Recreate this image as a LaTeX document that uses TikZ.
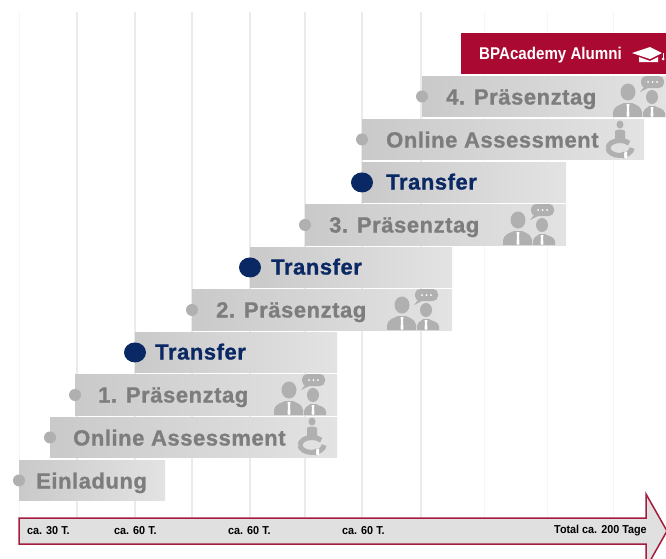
\documentclass[tikz,border=0pt]{standalone}
\usepackage{fontspec}
\usetikzlibrary{arrows.meta,shapes.geometric}
\setmainfont{Liberation Sans}
\newfontfamily\barfont[LetterSpace=2.5,BoldFeatures={FakeBold=1}]{Liberation Sans}
\newfontfamily\narrowfont[FakeStretch=.94]{Liberation Sans}
\newfontfamily\alumnifont[FakeStretch=.89]{Liberation Sans}

\definecolor{barleft}{gray}{.79}
\definecolor{barright}{gray}{.89}
\definecolor{iconcol}{gray}{.69}
\definecolor{labelcol}{gray}{.49}
\definecolor{navycol}{RGB}{10,40,100}
\definecolor{redcol}{RGB}{170,10,50}
\definecolor{gridcol}{gray}{.92}
\definecolor{faintcol}{gray}{.96}

\tikzset{
  barbox/.style={left color=barleft,right color=barright,draw=none,inner sep=0pt,
    anchor=north west,minimum height=40.5pt},
  graydot/.style={circle,fill=iconcol,inner sep=0pt,minimum size=12pt},
  navydot/.style={ellipse,fill=navycol,inner sep=0pt,minimum width=22pt,minimum height=20pt},
  daylabel/.style={anchor=west,inner sep=0pt,text=labelcol,text height=16pt,text depth=5pt,
    font=\barfont\bfseries\fontsize{22}{22}\selectfont},
  transferlabel/.style={daylabel,text=navycol},
  timelabel/.style={anchor=west,inner sep=0pt,text=black,
    font=\narrowfont\bfseries\fontsize{11.5}{12}\selectfont},
  talkicon/.pic={
    % large person
    \fill[iconcol] (-11,-25) ellipse[x radius=7.5,y radius=8.5];
    \fill[iconcol] (-26,0) -- (-26,-5) .. controls (-25,-11) and (-19,-12) .. (-15,-14)
      -- (-7,-14) .. controls (-3,-12) and (2,-11) .. (3,-5) -- (3,0) -- cycle;
    \fill[white] (-12.5,-13) -- (-9.5,-13) -- (-10,-9) -- (-9.5,-1) -- (-11,0) -- (-12.5,-1) -- (-12,-9) -- cycle;
    % small person
    \fill[iconcol] (13,-20) ellipse[x radius=6,y radius=7];
    \fill[iconcol] (4,0) -- (4,-4) .. controls (5,-9) and (9,-9) .. (10,-11)
      -- (16,-11) .. controls (18,-9) and (25,-9) .. (26,-4) -- (26,0) -- cycle;
    \fill[white] (11.5,-10) -- (14.5,-10) -- (14,-7) -- (14.5,-1) -- (13,0) -- (11.5,-1) -- (12,-7) -- cycle;
    % speech bubble
    \fill[iconcol,rounded corners=5pt] (2,-41) rectangle (25,-29);
    \fill[iconcol] (5,-30) -- (1,-25) -- (11,-30) -- cycle;
    \foreach \dotx in {9,13.5,18}
      \fill[white] (\dotx,-35) circle[radius=1];
  },
  assessicon/.pic={
    \fill[iconcol] (0,-33.5) ellipse[x radius=3.5,y radius=4];
    \fill[iconcol] (-5,-18) -- (-5,-27) .. controls (-3,-29) and (3,-29) .. (5,-27) -- (5,-18) -- cycle;
    \draw[iconcol,line width=5pt] (-12,-10) arc[start angle=180,end angle=320,x radius=12,y radius=7.5];
    \draw[iconcol,line width=5pt] (12,-10) arc[start angle=0,end angle=180,x radius=12,y radius=7.5];
    \fill[white] (-2,-3) -- (7,.5) -- (7,-6.5) -- cycle;
    \fill[iconcol] (-4,-3) -- (4,.5) -- (4,-6.5) -- cycle;
  },
  haticon/.pic={
    \fill[white] (-18,-9) -- (0,-15) -- (12,-9) -- (0,-3) -- cycle;
    \fill[white] (-11,-5) -- (0,-1) -- (8,-5) -- (8,0) -- (-11,0) -- cycle;
    \draw[white,line width=1pt] (13,-9) -- (13,-4);
    \fill[white] (13,-3) circle[radius=1.5];
  }
}

\begin{document}
\begin{tikzpicture}[x=1pt,y=-1pt]
  \useasboundingbox (0,0) rectangle (666,558);
  \clip (0,0) rectangle (666,558);

  % time grid
  \foreach \gridx in {77,135,192,250,305,362,421}
    \draw[gridcol,line width=1.5pt] (\gridx,12) -- (\gridx,517);
  \foreach \gridx in {19,484,547,613}
    \draw[faintcol,line width=1pt] (\gridx,12) -- (\gridx,517);

  % steps, bottom to top
  \node[barbox,minimum width=146pt] (einladung) at (19,460) {};
  \node[barbox,minimum width=287pt] (online1) at (50,417) {};
  \node[barbox,minimum width=262pt] (tag1) at (75,374.5) {};
  \node[barbox,minimum width=202pt] (transfer1) at (135,332) {};
  \node[barbox,minimum width=260pt] (tag2) at (192,289.5) {};
  \node[barbox,minimum width=202pt] (transfer2) at (250,247) {};
  \node[barbox,minimum width=261pt] (tag3) at (305,204.5) {};
  \node[barbox,minimum width=204pt] (transfer3) at (362,162) {};
  \node[barbox,minimum width=282pt] (online2) at (362,119) {};
  \node[barbox,minimum width=244pt] (tag4) at (422,76) {};
  \node[anchor=north west,fill=redcol,inner sep=0pt,minimum width=206pt,minimum height=41pt] (alumni) at (461,33) {};

  \node[graydot] (dotein) at (einladung.west) {};
  \node[graydot] (dotonl1) at (online1.west) {};
  \node[graydot] (dottag1) at (tag1.west) {};
  \node[navydot] (dottra1) at (transfer1.west) {};
  \node[graydot] (dottag2) at (tag2.west) {};
  \node[navydot] (dottra2) at (transfer2.west) {};
  \node[graydot] (dottag3) at (tag3.west) {};
  \node[navydot] (dottra3) at (transfer3.west) {};
  \node[graydot] (dotonl2) at (online2.west) {};
  \node[graydot] (dottag4) at (tag4.west) {};

  \node[daylabel] (txtein) at (36,483) {Einladung};
  \node[daylabel] (txtonl1) at (73,440) {Online Assessment};
  \node[daylabel] (txttag1) at (98,397) {1. Präsenztag};
  \node[transferlabel] (txttra1) at (155,354) {Transfer};
  \node[daylabel] (txttag2) at (216,312) {2. Präsenztag};
  \node[transferlabel] (txttra2) at (271,269) {Transfer};
  \node[daylabel] (txttag3) at (329,227) {3. Präsenztag};
  \node[transferlabel] (txttra3) at (386,184) {Transfer};
  \node[daylabel] (txtonl2) at (386,142) {Online Assessment};
  \node[daylabel] (txttag4) at (446,99) {4. Präsenztag};
  \node[anchor=west,inner sep=0pt,text=white,font=\alumnifont\bfseries\fontsize{17}{17}\selectfont] (txtalumni) at (479,55) {BPAcademy Alumni};

  % icons
  \pic at (639,117) {talkicon};
  \pic at (529,245) {talkicon};
  \pic at (413,330) {talkicon};
  \pic at (300,415) {talkicon};
  \pic at (620,158) {assessicon};
  \pic at (312,455) {assessicon};
  \pic at (650,62) {haticon};

  % time arrow
  \draw[redcol!85!gray,fill=black!12,line width=1.5pt] (19,518) -- (646,518) -- (646,494)
    -- (667,531) -- (646,568) -- (646,544) -- (19,544) -- cycle;
  \node[timelabel] (time1) at (27,531) {ca. 30 T.};
  \node[timelabel] (time2) at (114,531) {ca. 60 T.};
  \node[timelabel] (time3) at (228,531) {ca. 60 T.};
  \node[timelabel] (time4) at (342,531) {ca. 60 T.};
  \node[timelabel] (time5) at (554,531) {Total ca. 200 Tage};
\end{tikzpicture}
\end{document}
